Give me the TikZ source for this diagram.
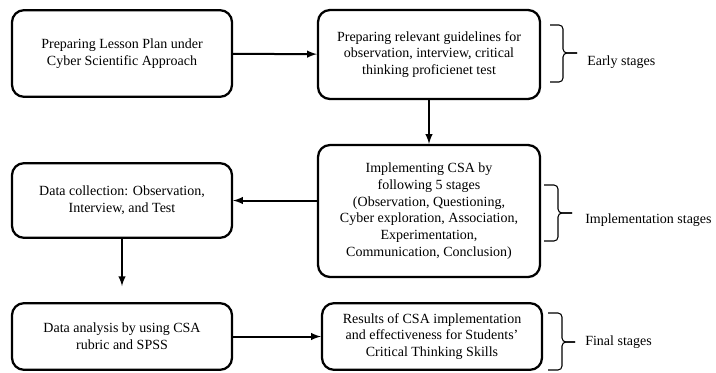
\documentclass[tikz,border=0pt]{standalone}
\usepackage{fontspec}
\setmainfont{Liberation Serif}
\usepackage{tikz}
\usetikzlibrary{calc, arrows, positioning}

\begin{document}
\begin{tikzpicture}[%
    >=latex,              % arrow style
    x=0.75pt, y=-0.75pt,  % one unit = one pixel of the page
    every node/.style={font=\fontsize{10.5}{12.5}\selectfont},
    stagebox/.style={draw, line width=1.7pt, rounded corners=9pt, align=center, inner sep=2pt},
    flow/.style={->, line width=1.5pt},
    stagebrace/.style={line width=0.8pt, rounded corners=3pt},
    stagelabel/.style={anchor=west, inner sep=0pt},
    ]

\useasboundingbox (0,0) rectangle (716,372);

%==================================================
% Coordinates
%==================================================

\coordinate (C1) at (122,53.5);
\coordinate (C2) at (429,54.5);
\coordinate (C3) at (429,211);
\coordinate (C4) at (122,200.5);
\coordinate (C5) at (122,336.5);
\coordinate (C6) at (432,336.5);

%==================================================
% Boxes
%==================================================
\node[stagebox, minimum width=165pt, minimum height=65pt] (plan) at (C1)
    {Preparing Lesson Plan under\\Cyber Scientific Approach};
\node[stagebox, minimum width=166.5pt, minimum height=66.75pt] (guide) at (C2)
    {Preparing relevant guidelines for\\observation, interview, critical\\thinking proficienet test};
\node[stagebox, minimum width=166.5pt, minimum height=99pt] (impl) at (C3)
    {Implementing CSA by\\following 5 stages\\(Observation, Questioning,\\Cyber exploration, Association,\\Experimentation,\\Communication, Conclusion)};
\node[stagebox, minimum width=165pt, minimum height=56pt] (collect) at (C4)
    {Data collection: Observation,\\Interview, and Test};
\node[stagebox, minimum width=165pt, minimum height=50pt] (analysis) at (C5)
    {Data analysis by using CSA\\rubric and SPSS};
\node[stagebox, minimum width=165pt, minimum height=50pt] (result) at (C6)
    {Results of CSA implementation\\and effectiveness for Students'\\Critical Thinking Skills};

%==================================================
% Arrows
%==================================================
\draw[flow] (plan) -- (guide);
\draw[flow] (guide) -- (impl);
\draw[flow] (impl.west |- collect.east) -- (collect.east);
\draw[flow, shorten >=12pt] (collect) -- (analysis);
\draw[flow] (analysis) -- (result);

%==================================================
% Braces
%==================================================
% Early stages
\coordinate (E1) at (550,25);
\coordinate (E2) at (550,82);
\coordinate (Et) at (577,53);
\draw[stagebrace] (E1) -- ++(13,0) |- (Et);
\draw[stagebrace] (E2) -- ++(13,0) |- (Et);

% Implementation stages
\coordinate (I1) at (544,185);
\coordinate (I2) at (544,241);
\coordinate (It) at (572,213);
\draw[stagebrace] (I1) -- ++(14,0) |- (It);
\draw[stagebrace] (I2) -- ++(14,0) |- (It);

% Final stages
\coordinate (F1) at (548,313);
\coordinate (F2) at (548,370);
\coordinate (Ft) at (575,342);
\draw[stagebrace] (F1) -- ++(14,0) |- (Ft);
\draw[stagebrace] (F2) -- ++(14,0) |- (Ft);

\node[stagelabel] (early) at (587,62) {Early stages};
\node[stagelabel] (implst) at (585,220) {Implementation stages};
\node[stagelabel] (final) at (585,342) {Final stages};

%==================================================
\end{tikzpicture}
\end{document}
